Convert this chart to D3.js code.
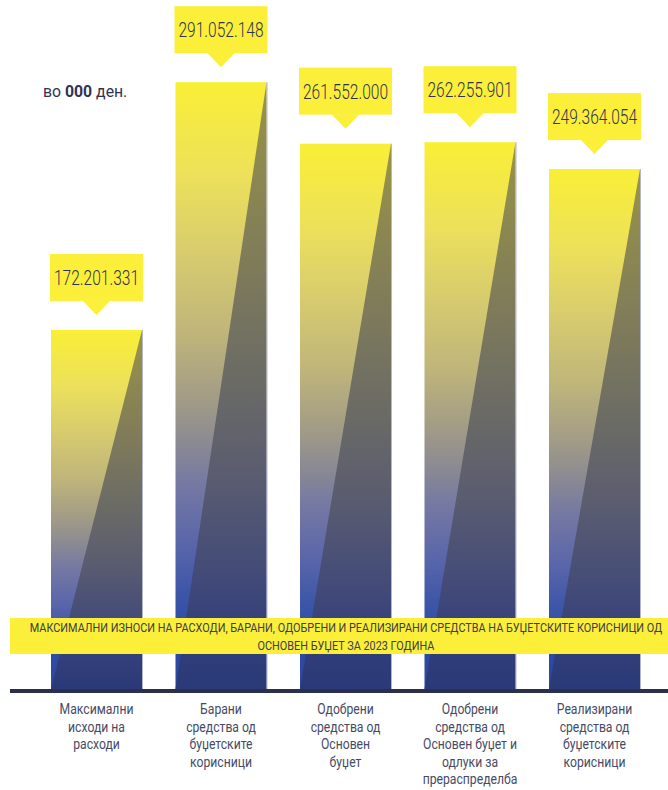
<!DOCTYPE html>
<html>
<head>
<meta charset="utf-8">
<script src="https://cdn.jsdelivr.net/npm/d3@7"></script>
<style>
  html, body { margin: 0; padding: 0; background: #fff; }
  svg { display: block; font-family: Roboto, 'Noto Sans', sans-serif; }
</style>
</head>
<body>
<svg id="chart" width="668" height="790"></svg>
<script>
'use strict';

// values in 000 denars
const categories = ['max', 'requested', 'approved', 'approvedRealloc', 'realized'];
const values = [172201331, 291052148, 261552000, 262255901, 249364054];
const categoryLabels = [
  ['Максимални', 'исходи на', 'расходи'],
  ['Барани', 'средства од', 'буџетските', 'корисници'],
  ['Одобрени', 'средства од', 'Основен', 'буџет'],
  ['Одобрени', 'средства од', 'Основен буџет и', 'одлуки за', 'прераспределба'],
  ['Реализирани', 'средства од', 'буџетските', 'корисници']
];
const titleLines = [
  'МАКСИМАЛНИ ИЗНОСИ НА РАСХОДИ, БАРАНИ, ОДОБРЕНИ И РЕАЛИЗИРАНИ СРЕДСТВА НА БУЏЕТСКИТЕ КОРИСНИЦИ ОД',
  'ОСНОВЕН БУЏЕТ ЗА 2023 ГОДИНА'
];
const unitPrefix = 'во ';
const unitBold = '000';
const unitSuffix = ' ден.';

const data = categories.map((c, i) => ({ key: c, value: values[i], label: categoryLabels[i] }));

const svg = d3.select('#chart');
const width = +svg.attr('width');
const baseY = 689;

const x = d3.scaleBand()
  .domain(categories)
  .range([34.25, 656.75])
  .paddingInner(0.269)
  .paddingOuter(0.1345);

const y = d3.scaleLinear()
  .domain([0, 300000000])
  .range([baseY, baseY - 625.5]);

const fmt = v => d3.format(',')(v).replace(/,/g, '.');

const defs = svg.append('defs');

function gradient(id, stops) {
  const g = defs.append('linearGradient')
    .attr('id', id)
    .attr('x1', 0).attr('y1', 0)
    .attr('x2', 0).attr('y2', 1);
  g.selectAll('stop')
    .data(stops)
    .enter().append('stop')
      .attr('offset', d => d[0])
      .attr('stop-color', d => d[1]);
}

gradient('barFill', [
  [0, '#f9ef36'], [0.15, '#ede15a'], [0.28, '#d8cc6e'], [0.41, '#c0b67a'],
  [0.52, '#a39c86'], [0.59, '#8c8b92'], [0.66, '#7679a2'], [0.76, '#5a66aa'],
  [0.84, '#3e56a8'], [0.9, '#2e4ca6'], [1, '#2c47a0']
]);
gradient('shadeFill', [
  [0, '#9a9446'], [0.3, '#7f7b5a'], [0.5, '#6a6a66'], [0.65, '#5a5c70'],
  [0.8, '#444c78'], [0.9, '#34407a'], [1, '#2a3978']
]);

// bars
const bar = svg.append('g')
  .attr('class', 'bars')
  .selectAll('g')
  .data(data)
  .enter().append('g');

bar.append('rect')
  .attr('x', d => x(d.key))
  .attr('y', d => y(d.value))
  .attr('width', x.bandwidth())
  .attr('height', d => baseY - y(d.value))
  .attr('fill', 'url(#barFill)');

bar.append('path')
  .attr('d', d => {
    const x0 = x(d.key);
    const x1 = x0 + x.bandwidth();
    return `M${x1},${y(d.value)}L${x1},${baseY}L${x0},${baseY}Z`;
  })
  .attr('fill', 'url(#shadeFill)');

bar.append('line')
  .attr('x1', d => x(d.key) + x.bandwidth() + 0.5)
  .attr('x2', d => x(d.key) + x.bandwidth() + 0.5)
  .attr('y1', d => y(d.value))
  .attr('y2', baseY)
  .attr('stroke', '#b4b6cc')
  .attr('stroke-width', 1);

// value callouts
const callout = svg.append('g')
  .attr('class', 'callouts')
  .selectAll('g')
  .data(data)
  .enter().append('g')
    .attr('transform', d => `translate(${x(d.key) + x.bandwidth() / 2},${y(d.value)})`);

callout.append('rect')
  .attr('x', -46.5)
  .attr('y', -76)
  .attr('width', 93)
  .attr('height', 47)
  .attr('fill', '#fcef3a');

callout.append('path')
  .attr('d', 'M-14,-29.5L0,-15L14,-29.5Z')
  .attr('fill', '#fcef3a');

callout.append('text')
  .attr('transform', 'translate(0,-45) scale(0.74,1)')
  .attr('text-anchor', 'middle')
  .attr('font-size', 21)
  .attr('font-weight', 300)
  .attr('fill', '#2f3350')
  .text(d => fmt(d.value));

// unit note
const unit = svg.append('text')
  .attr('transform', 'translate(43,97) scale(0.93,1)')
  .attr('font-size', 17)
  .attr('fill', '#2f3352');
unit.append('tspan').text(unitPrefix);
unit.append('tspan').attr('font-weight', 700).text(unitBold);
unit.append('tspan').text(unitSuffix);

// title banner over the bars
svg.append('rect')
  .attr('x', 10)
  .attr('y', 618)
  .attr('width', width - 10)
  .attr('height', 36)
  .attr('fill', '#fcef3a');

svg.append('g')
  .selectAll('text')
  .data(titleLines)
  .enter().append('text')
    .attr('transform', (d, i) => `translate(346,${632 + i * 17.5}) scale(0.87,1)`)
    .attr('text-anchor', 'middle')
    .attr('font-size', 12.5)
    .attr('fill', '#3a3b46')
    .text(d => d);

// baseline
svg.append('rect')
  .attr('x', 10)
  .attr('y', baseY)
  .attr('width', width - 10)
  .attr('height', 4)
  .attr('fill', '#2b2e4c');

// category labels
const label = svg.append('g')
  .attr('class', 'labels')
  .selectAll('text')
  .data(data)
  .enter().append('text')
    .attr('transform', d => `translate(${x(d.key) + x.bandwidth() / 2},714) scale(0.87,1)`)
    .attr('text-anchor', 'middle')
    .attr('font-size', 14)
    .attr('fill', '#464a66');

label.selectAll('tspan')
  .data(d => d.label)
  .enter().append('tspan')
    .attr('x', 0)
    .attr('dy', (d, i) => i === 0 ? 0 : 17.6)
    .text(d => d);
</script>
</body>
</html>
